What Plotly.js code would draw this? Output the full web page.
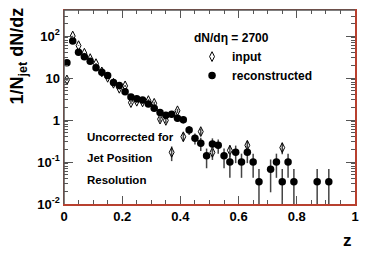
<!DOCTYPE html>
<html><head><meta charset="utf-8">
<script src="https://cdn.plot.ly/plotly-3.0.1.min.js"></script>
<style>html,body{margin:0;padding:0;background:#fff}#plot{width:374px;height:253px}</style>
</head><body><div id="plot"></div>
<script>
// reconstructed (filled circles)
const zReco = [0.01,0.03,0.05,0.07,0.09,0.11,0.13,0.15,0.17,0.19,0.21,0.23,0.25,0.27,0.29,0.31,0.33,0.35,0.37,0.39,0.41,0.43,0.45,0.47,0.49,0.51,0.53,0.55,0.57,0.59,0.61,0.63,0.65,0.67,0.71,0.73,0.75,0.77,0.79,0.87,0.91];
const vReco = [23,76,41,32,25,17.6,13.8,11.5,7.8,6.6,4.7,3.55,3.2,3.0,2.4,1.9,1.5,1.3,1.38,1.1,1.02,0.58,0.37,0.28,0.14,0.27,0.25,0.14,0.10,0.17,0.10,0.17,0.10,0.034,0.067,0.10,0.034,0.10,0.034,0.034,0.034];
const eReco = [0.88,1.6,1.2,1.04,0.92,0.77,0.69,0.63,0.51,0.47,0.40,0.35,0.33,0.32,0.29,0.25,0.23,0.21,0.22,0.19,0.19,0.14,0.11,0.098,0.069,0.096,0.092,0.069,0.058,0.076,0.058,0.076,0.058,0.034,0.048,0.058,0.034,0.058,0.034,0.034,0.034];
// input (open diamonds)
const zInput = [0.01,0.03,0.05,0.07,0.09,0.11,0.13,0.15,0.17,0.19,0.21,0.23,0.25,0.27,0.29,0.31,0.33,0.35,0.37,0.39,0.41,0.47,0.51,0.57,0.63,0.75];
const vInput = [9,100,59,39,29,22,14,10.4,7.5,5.7,6.5,2.6,2.8,2.7,2.9,2.5,1.05,0.98,0.17,1.66,0.40,0.53,0.17,0.19,0.25,0.22];
const eInput = [0.4,1.4,1.1,0.9,0.76,0.66,0.53,0.46,0.39,0.34,0.36,0.23,0.24,0.23,0.24,0.22,0.14,0.14,0.065,0.18,0.09,0.1,0.058,0.06,0.07,0.066];
// axis ticks
const xTickVals = [0,0.2,0.4,0.6,0.8,1];
const xTickText = ["0","0.2","0.4","0.6","0.8","1"];
const yTickVals = [0.01,0.1,1,10,100];
const yTickText = ["10<sup>-2</sup>","10<sup>-1</sup>","1","10","10<sup>2</sup>"];
const yMinorVals = [0.02,0.03,0.04,0.05,0.06,0.07,0.08,0.09,0.2,0.3,0.4,0.5,0.6,0.7,0.8,0.9,2,3,4,5,6,7,8,9,20,30,40,50,60,70,80,90,200,300,400];

const FONT = "Liberation Sans, Arial, Helvetica, sans-serif";
const RED = "#b8402f";
const GRAY = "#555";

const traces = [
  {type:"scatter", mode:"markers", name:"input", x:zInput, y:vInput,
   marker:{symbol:"diamond-tall-open", size:7, color:"#000", line:{width:1, color:"#000"}},
   error_y:{type:"data", array:eInput, visible:true, color:"#444", thickness:1.5, width:0}},
  {type:"scatter", mode:"markers", name:"reconstructed", x:zReco, y:vReco,
   marker:{symbol:"circle", size:7.5, color:"#000"},
   error_y:{type:"data", array:eReco, visible:true, color:"#444", thickness:1.5, width:0}}
];

const layout = {
  width:374, height:253,
  margin:{l:64, r:19, t:10, b:49},
  paper_bgcolor:"#fff", plot_bgcolor:"#fff",
  showlegend:true,
  font:{family:FONT, color:"#000"},
  xaxis:{range:[0,1], tickmode:"array", tickvals:xTickVals, ticktext:xTickText,
    ticks:"inside", ticklen:8, tickcolor:GRAY, tickwidth:1,
    minor:{dtick:0.05, ticks:"inside", ticklen:4, tickcolor:GRAY, tickwidth:1, showgrid:false},
    showline:true, linecolor:RED, linewidth:1.5, mirror:"ticks",
    showgrid:false, zeroline:false,
    tickfont:{family:FONT, size:13, weight:"bold", color:"#000"}},
  yaxis:{type:"log", range:[-2,2.62], tickmode:"array", tickvals:yTickVals, ticktext:yTickText,
    ticks:"inside", ticklen:9, tickcolor:GRAY, tickwidth:1,
    minor:{tickmode:"array", tickvals:yMinorVals, ticks:"inside", ticklen:4, tickcolor:GRAY, tickwidth:1, showgrid:false},
    showline:true, linecolor:RED, linewidth:1.5, mirror:"ticks",
    showgrid:false, zeroline:false,
    tickfont:{family:FONT, size:13, weight:"bold", color:"#000"}},
  legend:{x:0.44, y:0.915, xanchor:"left", yanchor:"top", bgcolor:"rgba(0,0,0,0)",
    title:{text:"dN/dη = 2700", font:{family:FONT, size:12, weight:"bold", color:"#000"}},
    font:{family:FONT, size:12, weight:"bold", color:"#000"}, tracegroupgap:0},
  shapes:[
    {type:"line", xref:"paper", yref:"paper", x0:0, x1:0, y0:0, y1:1, line:{color:GRAY, width:1.5}, layer:"above"},
    {type:"line", xref:"paper", yref:"paper", x0:0, x1:1, y0:1, y1:1, line:{color:GRAY, width:1.5}, layer:"above"}
  ],
  annotations:[
    {text:"1/N<sub>jet</sub> dN/dz", xref:"paper", yref:"paper", x:-0.155, y:1.025, xanchor:"center", yanchor:"top",
     textangle:-90, showarrow:false, font:{family:FONT, size:18, weight:"bold", color:"#000"}},
    {text:"z", xref:"paper", yref:"paper", x:0.975, y:-0.19, xanchor:"center", yanchor:"middle",
     showarrow:false, font:{family:FONT, size:17, weight:"bold", color:"#000"}},
    {text:"Uncorrected for", xref:"paper", yref:"paper", x:0.072, y:0.345, xanchor:"left", yanchor:"middle",
     showarrow:false, font:{family:FONT, size:11.5, weight:"bold", color:"#000"}},
    {text:"Jet Position", xref:"paper", yref:"paper", x:0.072, y:0.237, xanchor:"left", yanchor:"middle",
     showarrow:false, font:{family:FONT, size:11.5, weight:"bold", color:"#000"}},
    {text:"Resolution", xref:"paper", yref:"paper", x:0.072, y:0.124, xanchor:"left", yanchor:"middle",
     showarrow:false, font:{family:FONT, size:11.5, weight:"bold", color:"#000"}}
  ]
};

Plotly.newPlot("plot", traces, layout, {staticPlot:true, displayModeBar:false});
</script>
</body></html>
